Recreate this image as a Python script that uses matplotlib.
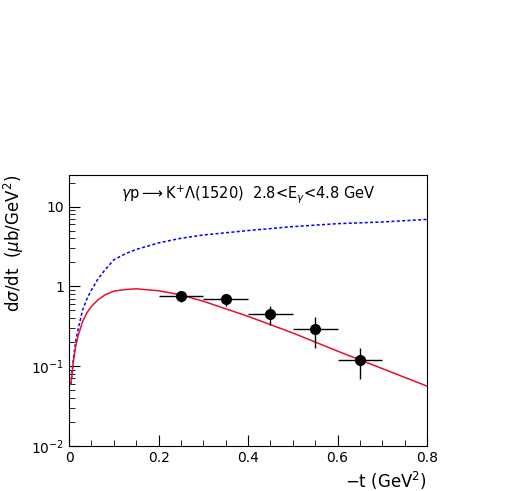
import numpy as np
import matplotlib
matplotlib.use("Agg")
import matplotlib.pyplot as plt
from matplotlib.ticker import LogLocator, MultipleLocator, FixedLocator

# model curves
t_curve = [0.004, 0.01, 0.015, 0.02, 0.03, 0.04, 0.05, 0.065, 0.08, 0.1, 0.125, 0.15, 0.2, 0.25,
           0.3, 0.4, 0.5, 0.6, 0.7, 0.8]
red_curve = [0.059, 0.12, 0.18, 0.24, 0.36, 0.47, 0.56, 0.68, 0.78, 0.87, 0.91, 0.93, 0.88, 0.78,
             0.65, 0.42, 0.26, 0.154, 0.093, 0.056]
blue_curve = [0.059, 0.13, 0.21, 0.29, 0.50, 0.70, 0.90, 1.25, 1.6, 2.15, 2.55, 2.9, 3.5, 4.0,
              4.4, 5.0, 5.6, 6.1, 6.4, 6.9]

# data points
t_data = [0.25, 0.35, 0.45, 0.55, 0.65]
t_err = [0.05, 0.05, 0.05, 0.05, 0.05]
y_data = [0.76, 0.69, 0.45, 0.29, 0.119]
y_hi = [0.88, 0.81, 0.56, 0.41, 0.17]
y_lo = [0.63, 0.56, 0.33, 0.17, 0.069]

fig = plt.figure(figsize=(5.12, 4.91), dpi=100)
ax = fig.add_axes([0.135, 0.092, 0.699, 0.552])

ax.plot(t_curve, blue_curve, color="blue", ls=(0, (2, 1.5)), lw=1.1)
ax.plot(t_curve, red_curve, color="#e8102a", lw=1.1)

yerr = [np.array(y_data) - np.array(y_lo), np.array(y_hi) - np.array(y_data)]
ax.errorbar(t_data, y_data, xerr=t_err, yerr=yerr, fmt="o", color="black",
            ms=7, elinewidth=1, capsize=0)

ax.set_yscale("log")
ax.set_xlim(0, 0.8)
ax.set_ylim(0.01, 25)
ax.xaxis.set_major_locator(FixedLocator([0, 0.2, 0.4, 0.6, 0.8]))
ax.xaxis.set_minor_locator(MultipleLocator(0.05))
ax.set_xticklabels(["0", "0.2", "0.4", "0.6", "0.8"])
ax.yaxis.set_major_locator(FixedLocator([0.01, 0.1, 1, 10]))
ax.set_yticklabels([r"$10^{-2}$", r"$10^{-1}$", "1", "10"])
ax.yaxis.set_minor_locator(LogLocator(base=10, subs=np.arange(2, 10)))
ax.tick_params(which="both", direction="in", right=False, top=False, labelsize=10)
ax.tick_params(which="major", length=8)
ax.tick_params(which="minor", length=4)

ax.set_xlabel(r"$-$t (GeV$^2$)", fontsize=12, loc="right")
ax.set_ylabel(r"d$\sigma$/dt  ($\mu$b/GeV$^2$)", fontsize=12, loc="top")
ax.text(0.5, 0.93, r"$\gamma$p$\longrightarrow$K$^{+}\Lambda$(1520)  2.8<E$_\gamma$<4.8 GeV",
        transform=ax.transAxes, ha="center", va="center", fontsize=10.5)

fig.savefig("out.png", dpi=100)
